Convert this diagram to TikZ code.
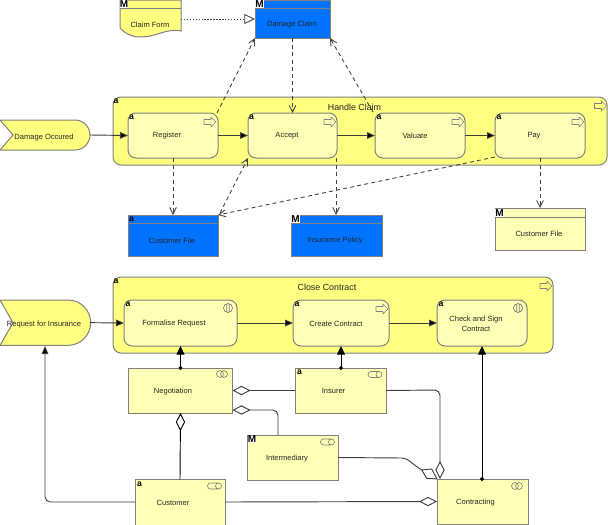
\documentclass[tikz,border=0pt]{standalone}
\usepackage{fontspec}
\setmainfont{Liberation Sans}
\usetikzlibrary{arrows.meta,calc}
\definecolor{busy}{HTML}{FFFF80}
\definecolor{pale}{HTML}{FFFFB5}
\definecolor{dblue}{HTML}{0073FF}
\definecolor{edge}{HTML}{808080}
\definecolor{wire}{HTML}{404040}
\tikzset{
 x=0.75pt,y=-0.75pt,
 boxn/.style={draw=edge,line width=0.75pt,inner sep=0,outer sep=0,anchor=north west},
 grp/.style={boxn,fill=busy,rounded corners=6pt},
 proc/.style={boxn,fill=pale,rounded corners=6pt},
 act/.style={boxn,fill=pale},
 obj/.style={boxn,fill=dblue},
 ghost/.style={inner sep=0,outer sep=0,anchor=north west},
 txt/.style={inner sep=0,yshift=-0.6pt,font=\fontsize{5.65}{7.5}\selectfont,text=black!85,align=center},
 ttl/.style={inner sep=0,yshift=-0.4pt,font=\fontsize{6.65}{9}\selectfont,text=black!85},
 badge/.style={inner sep=0,font=\fontsize{6.5}{7}\selectfont\bfseries,text=black},
 mbadge/.style={inner sep=0.2pt,fill=white,font=\fontsize{7.5}{7.5}\selectfont\bfseries,text=black},
 ico/.style={draw=edge,line width=0.5pt},
 hdr/.style={draw=edge,line width=0.75pt},
 flow/.style={draw=wire,line width=0.7pt,-{Triangle[length=6pt,width=5pt,fill=black]}},
 dep/.style={draw=wire,line width=0.65pt,dash pattern=on 3pt off 2.4pt,-{Straight Barb[length=5pt,width=5pt,open]}},
 spec/.style={draw=wire,line width=0.65pt,dash pattern=on 1.1pt off 1.1pt,-{Triangle[open,length=8pt,width=7.5pt,fill=white]}},
 assign/.style={draw=black,line width=0.75pt,{Circle[length=3pt,width=3pt,fill=black,sep=-1.5pt]}-{Triangle[length=6.5pt,width=6pt,fill=black]}},
 aggr/.style={draw=wire,line width=0.7pt,-{Diamond[open,length=13.5pt,width=7pt,fill=white]}},
 rnd/.style={rounded corners=4pt},
}
\newcommand{\bx}[6]{\node[#2,minimum width={(#5-#3)*0.75pt},minimum height={(#6-#4)*0.75pt}] (#1) at (#3,#4) {};}
\newcommand{\arrowicon}[2]{\draw[ico,shift={(#1,#2)},line join=round] (-6,-2.5)--(1,-2.5)--(1,-5)--(6,0)--(1,5)--(1,2.5)--(-6,2.5)--cycle;}
\newcommand{\intericon}[2]{\draw[ico,shift={(#1,#2)}] (0,0) circle[radius=3.4pt] (-1.3,-4.4)--(-1.3,4.4) (1.3,-4.4)--(1.3,4.4);}
\newcommand{\collabicon}[2]{\draw[ico,shift={(#1,#2)}] (-2,0) circle[radius=2.6pt] (2,0) circle[radius=2.6pt];}
\newcommand{\roleicon}[2]{\draw[ico,shift={(#1,#2)}] (-4,-3) -- (4,-3) arc[start angle=90,end angle=-90,radius=2.25pt] -- (-4,3) arc[start angle=270,end angle=90,radius=2.25pt] -- cycle (4,-3) arc[start angle=90,end angle=270,radius=2.25pt];}
\begin{document}
\begin{tikzpicture}
\useasboundingbox (0,0) rectangle (608,525);
\fill[white] (0,0) rectangle (608,525);

% Claim form (wavy document)
\node[ghost,minimum width=45.75pt,minimum height=27.75pt] (claimform) at (120,0) {};
\draw[boxn,fill=busy] (120,0) -- (181,0) -- (181,31) .. controls (165,28) and (158,37) .. (140,37) .. controls (132,37) and (124,33) .. (120,28) -- cycle;
\draw[hdr] (120,8) -- (181,8);
\node[txt] (tclaimform) at (150,24) {Claim Form};
\node[mbadge] (mclaimform) at (124,4) {M};

% Damage claim
\bx{damage}{obj}{255}{0}{330}{38}
\draw[hdr] (255,8) -- (330,8);
\node[txt] (tdamage) at (292,24) {Damage Claim};
\node[mbadge] (mdamage) at (259.5,4) {M};

% Handle Claim group
\bx{handle}{grp}{113}{97}{607}{165}
\node[badge] (ahandle) at (116,101) {a};
\node[ttl] (thandle) at (354.5,106.5) {Handle Claim};
\arrowicon{600.5}{106}

\bx{register}{proc}{128}{113}{218}{158}
\node[badge] (aregister) at (131.5,117) {a};
\node[txt] (tregister) at (167,135) {Register};
\arrowicon{210}{122}
\bx{accept}{proc}{248}{113}{337}{158}
\node[badge] (aaccept) at (251.5,117) {a};
\node[txt] (taccept) at (287,135) {Accept};
\arrowicon{330}{122}
\bx{valuate}{proc}{375}{113}{465}{158}
\node[badge] (avaluate) at (379,117) {a};
\node[txt] (tvaluate) at (415,135) {Valuate};
\arrowicon{458}{122}
\bx{pay}{proc}{495}{113}{585}{158}
\node[badge] (apay) at (499,117) {a};
\node[txt] (tpay) at (534,135) {Pay};
\arrowicon{578}{122}

% Events
\node[ghost,minimum width=67.5pt,minimum height=22.5pt] (occured) at (0,120) {};
\draw[boxn,fill=busy] (0,120) -- (75,120) arc[start angle=90,end angle=-90,radius=11.25pt] -- (0,150) -- (13,135) -- cycle;
\node[txt] (toccured) at (44,137) {Damage Occured};

\node[ghost,minimum width=67.5pt,minimum height=34pt] (request) at (0,300) {};
\draw[boxn,fill=busy] (0,300) -- (68,300) arc[start angle=90,end angle=-90,radius=17pt] -- (0,345.4) -- (13,322.7) -- cycle;
\node[txt] (trequest) at (44,324) {Request for Insurance};

% Data objects, row two
\bx{custfile}{obj}{128}{215}{218}{256}
\draw[hdr] (128,223) -- (218,223);
\node[badge] (acustfile) at (131.5,219) {a};
\node[txt] (tcustfile) at (172,240) {Customer File};
\bx{policy}{obj}{291}{215}{382}{256}
\draw[hdr] (291,223) -- (382,223);
\node[mbadge] (mpolicy) at (295.5,219) {M};
\node[txt] (tpolicy) at (335,240) {Insurance Policy};
\bx{custfiley}{act}{495}{208}{585}{250}
\draw[hdr] (495,217) -- (585,217);
\node[mbadge] (mcustfiley) at (499.5,213) {M};
\node[txt] (tcustfiley) at (539,233.5) {Customer File};

% Close Contract group
\bx{close}{grp}{113}{277}{553}{353}
\node[badge] (aclose) at (116,281) {a};
\node[ttl] (tclose) at (327,286.5) {Close Contract};
\arrowicon{546}{286}
\bx{formalise}{proc}{124}{300}{237}{346}
\node[badge] (aformalise) at (128,304.5) {a};
\node[txt] (tformalise) at (174,323) {Formalise Request};
\intericon{228}{308}
\bx{create}{proc}{293}{300}{389}{346}
\node[badge] (acreate) at (297,304.5) {a};
\node[txt] (tcreate) at (336,323) {Create Contract};
\arrowicon{382}{309}
\bx{check}{proc}{437}{300}{527}{346}
\node[badge] (acheck) at (441,304.5) {a};
\node[txt] (tcheck) at (476,323) {Check and Sign\\Contract};
\intericon{518}{308}

% Actors
\bx{negotiation}{act}{128}{368}{232.5}{413}
\node[txt] (tnegotiation) at (173,390.5) {Negotiation};
\collabicon{222}{374}
\bx{insurer}{act}{295}{368}{386}{413}
\node[badge] (ainsurer) at (299.5,372.5) {a};
\node[txt] (tinsurer) at (333.5,390.5) {Insurer};
\roleicon{375}{374.5}
\bx{intermediary}{act}{247}{435}{338}{480}
\node[mbadge] (mintermediary) at (252,439.5) {M};
\node[txt] (tintermediary) at (287,458) {Intermediary};
\roleicon{327.5}{442}
\bx{customer}{act}{135}{479}{225}{525}
\node[badge] (acustomer) at (139.5,484) {a};
\node[txt] (tcustomer) at (173,502) {Customer};
\roleicon{214.5}{486}
\bx{contracting}{act}{437}{479}{528}{524}
\node[txt] (tcontracting) at (475.5,502) {Contracting};
\collabicon{517}{486}

% Connectors
\draw[spec] (claimform.east |- 0,19) -- (damage.west |- 0,19);
\draw[dep] (register.north east) ++(-1,0) -- (damage.south west);
\draw[dep] (damage.south -| accept.north) -- (accept.north);
\draw[dep] (valuate.north west) ++(-2,-1) -- (damage.south east);
\draw[dep] (custfile.north |- register.south) -- (custfile.north);
\draw[dep] (custfile.north east) ++(2,-2) -- (accept.south west);
\draw[dep] (pay.south west) ++(0,-1) -- (custfile.north east);
\draw[dep] (accept.south east) ++(-1,0) -- ($(policy.north west)+(45,0)$);
\draw[dep] (custfiley.north |- pay.south) -- (custfiley.north);

\draw[flow] (occured.east) -- (register.west);
\draw[flow] (register.east) -- (accept.west);
\draw[flow] (accept.east) -- (valuate.west);
\draw[flow] (valuate.east) -- (pay.west);
\draw[flow] (request.east) -- (formalise.west);
\draw[flow] (formalise.east) -- (create.west);
\draw[flow] (create.east) -- (check.west);

\draw[assign] ($(negotiation.north west)+(52.5,0)$) -- ($(formalise.south west)+(56.5,0)$);
\draw[assign] ($(insurer.north west)+(46,0)$) -- ($(create.south west)+(48,0)$);
\draw[assign] ($(contracting.north west)+(45,0)$) -- (check.south);

\draw[flow,rnd] (customer.west) -- (45,502) -- (45,346);
\draw[aggr] (customer.east) -- (contracting.west);
\draw[aggr,draw=black] ($(customer.north west)+(45,0)$) -- ($(negotiation.south west)+(52.5,0)$);
\draw[aggr] (insurer.west) -- (negotiation.east);
\draw[aggr,rnd] ($(intermediary.north west)+(31,0)$) -- (278,410) -- (232.5,410);
\draw[aggr,rnd] (insurer.east) -- (440,390) -- ($(contracting.north west)+(3,0)$);

\coordinate (dj) at (421.7,470);
\draw[draw=wire,line width=0.7pt] (intermediary.east) -- (402,458) .. controls (408,458) and (412,464) .. (dj);
\draw[draw=wire,line width=0.7pt,fill=white,line join=round] (dj) -- (431.7,469) -- (contracting.north west) -- (426.7,478.3) -- cycle;
\end{tikzpicture}
\end{document}
